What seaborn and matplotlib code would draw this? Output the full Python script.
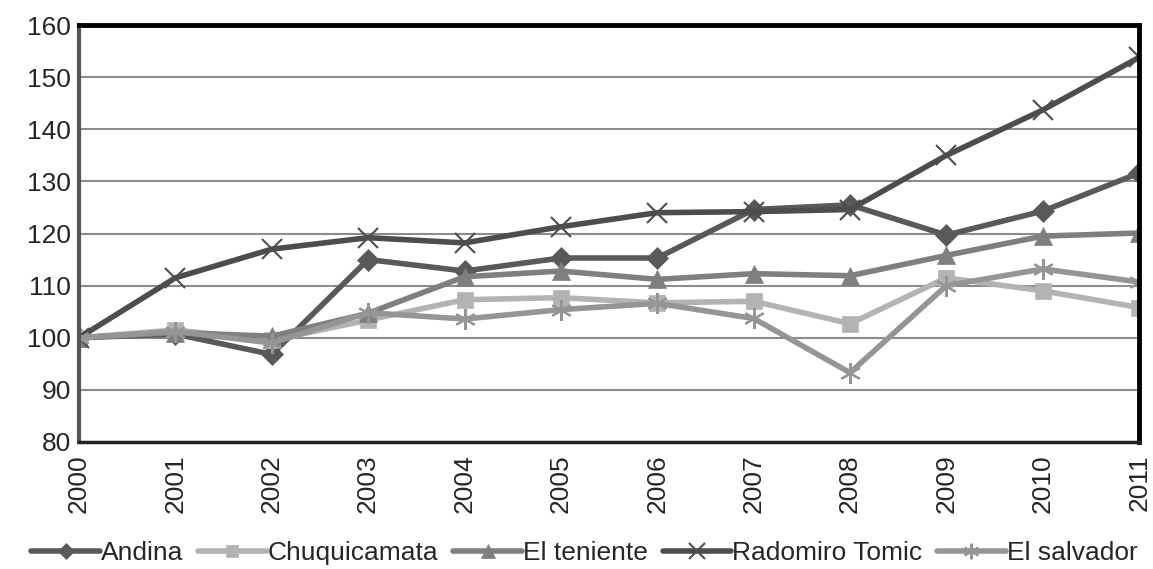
import matplotlib
matplotlib.use("Agg")
import matplotlib.pyplot as plt
import seaborn as sns
import pandas as pd

years = [2000, 2001, 2002, 2003, 2004, 2005, 2006, 2007, 2008, 2009, 2010, 2011]
andina = [100, 100.7, 96.8, 115.0, 112.8, 115.3, 115.3, 124.6, 125.5, 119.7, 124.3, 131.6]
chuquicamata = [100, 101.5, 99.5, 103.4, 107.3, 107.7, 106.7, 107.0, 102.7, 111.5, 109.0, 105.8]
el_teniente = [100, 101.0, 100.3, 104.7, 111.7, 112.8, 111.2, 112.3, 111.9, 115.8, 119.5, 120.1]
radomiro = [100, 111.5, 117.0, 119.2, 118.2, 121.3, 124.0, 124.2, 124.6, 135.0, 143.7, 153.8]
el_salvador = [100, 101.2, 99.0, 104.8, 103.6, 105.4, 106.6, 103.7, 93.3, 110.0, 113.2, 110.7]

names = ["Andina", "Chuquicamata", "El teniente", "Radomiro Tomic", "El salvador"]
series = [andina, chuquicamata, el_teniente, radomiro, el_salvador]

rows = []
for n, s in zip(names, series):
    for y, v in zip(years, s):
        rows.append({"year": y, "value": v, "serie": n})
df = pd.DataFrame(rows)

colors = {"Andina": "#595959", "Chuquicamata": "#b3b3b3", "El teniente": "#7f7f7f",
          "Radomiro Tomic": "#4d4d4d", "El salvador": "#959595"}
markers = {"Andina": "D", "Chuquicamata": "s", "El teniente": "^",
           "Radomiro Tomic": "x", "El salvador": (6, 2, 0)}
msizes = {"Andina": 11, "Chuquicamata": 12, "El teniente": 13, "Radomiro Tomic": 15, "El salvador": 15}

sns.set_style("white")
plt.rcParams['font.family'] = ['Liberation Sans', 'DejaVu Sans']

fig = plt.figure(figsize=(11.53, 5.69), dpi=100)
ax = fig.add_axes([0.0685, 0.2232, 0.9195, 0.7328])

for n in names:
    sub = df[df.serie == n]
    sns.lineplot(data=sub, x="year", y="value", ax=ax, color=colors[n], marker=markers[n],
                 markersize=msizes[n], linewidth=4, label=n,
                 markeredgecolor=colors[n], markeredgewidth=1.5 if n in ("Radomiro Tomic", "El salvador") else 0.5)

ax.set_xlim(2000, 2011)
ax.set_ylim(80, 160)
ax.set_yticks(range(80, 161, 10))
ax.set_xticks(years)
ax.set_xticklabels([str(y) for y in years], rotation=90)
ax.set_xlabel("")
ax.set_ylabel("")
ax.yaxis.grid(True, color="#8c8c8c", linewidth=1.5)
ax.set_axisbelow(True)
ax.tick_params(axis="x", direction="in", length=5, color="#999999", labelsize=19, pad=9)
ax.tick_params(axis="y", length=0, labelsize=19, pad=6)
for side, lw, c in [("left", 3, "#555555"), ("top", 3.5, "black"), ("right", 3.5, "black"), ("bottom", 2.5, "#222222")]:
    ax.spines[side].set_visible(True)
    ax.spines[side].set_linewidth(lw)
    ax.spines[side].set_color(c)
for sp in ax.spines.values():
    sp.set_zorder(5)

handles, labels = ax.get_legend_handles_labels()
ax.get_legend().remove()
fig.legend(handles, labels, loc="center", bbox_to_anchor=(0.507, 0.028), ncol=5, frameon=False,
           fontsize=19, handlelength=2.6, handletextpad=0.05, columnspacing=0.55, markerscale=0.75,
           borderaxespad=0, borderpad=0)
fig.savefig("out.png", dpi=100)
